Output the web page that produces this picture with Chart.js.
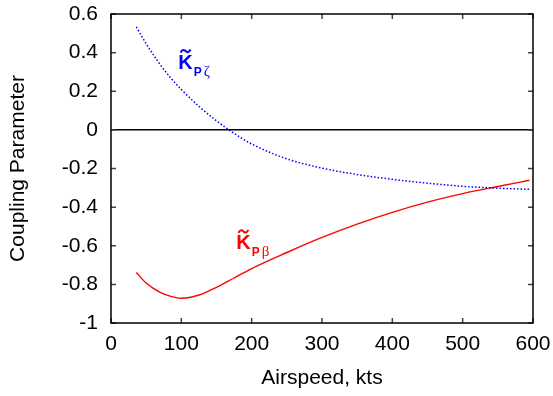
<!DOCTYPE html>
<html>
<head>
<meta charset="utf-8">
<script src="https://cdn.jsdelivr.net/npm/chart.js@4.4.1/dist/chart.umd.min.js"></script>
<style>
  html, body { margin: 0; padding: 0; background: #fff; }
  #wrap { width: 553px; height: 396px; }
</style>
</head>
<body>
<div id="wrap"><canvas id="c" width="553" height="396"></canvas></div>
<script>
// ---- data ----
const airspeed = [36, 50, 70, 85, 100, 125, 150, 175, 200, 250, 300, 350, 400, 450, 500, 550, 595];
const kpZeta   = [0.533, 0.446, 0.338, 0.269, 0.209, 0.122, 0.047, -0.018, -0.073, -0.150, -0.198, -0.231, -0.256, -0.276, -0.292, -0.302, -0.308];
const kpBeta   = [-0.738, -0.793, -0.842, -0.862, -0.872, -0.855, -0.815, -0.767, -0.718, -0.635, -0.557, -0.488, -0.427, -0.374, -0.33, -0.293, -0.261];
const xTicks = [0, 100, 200, 300, 400, 500, 600];
const yTicks = [0.6, 0.4, 0.2, 0, -0.2, -0.4, -0.6, -0.8, -1];
// curve labels: main letter, subscript, greek, anchor (data coords of K left/baseline)
const labelZeta = { main: 'K', sub: 'P', greek: 'ζ', x: 95.7, y: 0.315, color: '#0000ff' };
const labelBeta = { main: 'K', sub: 'P', greek: 'β', x: 178, y: -0.619, color: '#ff0000' };

const FONT = "'Liberation Sans', Arial, Helvetica, sans-serif";

const pts = (xs, ys) => xs.map((x, i) => ({ x: x, y: ys[i] }));

const framePlugin = {
  id: 'frame',
  afterDatasetsDraw(chart) {
    const ctx = chart.ctx;
    const a = chart.chartArea;
    const xs = chart.scales.x, ys = chart.scales.y;
    ctx.save();
    // inward ticks on all four sides
    ctx.strokeStyle = '#444';
    ctx.lineWidth = 1.5;
    const tl = 5;
    xs.ticks.forEach((t, i) => {
      const px = xs.getPixelForTick(i);
      ctx.beginPath();
      ctx.moveTo(px, a.bottom); ctx.lineTo(px, a.bottom - tl);
      ctx.moveTo(px, a.top); ctx.lineTo(px, a.top + tl);
      ctx.stroke();
    });
    ys.ticks.forEach((t, i) => {
      const py = ys.getPixelForTick(i);
      ctx.beginPath();
      ctx.moveTo(a.left, py); ctx.lineTo(a.left + tl, py);
      ctx.moveTo(a.right, py); ctx.lineTo(a.right - tl, py);
      ctx.stroke();
    });
    // frame
    ctx.strokeStyle = '#000';
    ctx.lineWidth = 1.5;
    ctx.strokeRect(a.left, a.top, a.right - a.left, a.bottom - a.top);
    // curve labels
    [labelZeta, labelBeta].forEach(l => {
      const px = xs.getPixelForValue(l.x);
      const py = ys.getPixelForValue(l.y);
      ctx.fillStyle = l.color;
      ctx.strokeStyle = l.color;
      ctx.textBaseline = 'alphabetic';
      ctx.textAlign = 'left';
      ctx.font = "bold 20px " + FONT;
      ctx.fillText(l.main, px, py);
      const kw = ctx.measureText(l.main).width;
      // tilde
      const cx = px + kw / 2, ty = py - 18;
      ctx.lineWidth = 2;
      ctx.beginPath();
      ctx.moveTo(cx - 5, ty + 1.5);
      ctx.bezierCurveTo(cx - 3, ty - 2.5, cx - 1, ty - 1, cx, ty);
      ctx.bezierCurveTo(cx + 1, ty + 1, cx + 3, ty + 2.5, cx + 5, ty - 1.5);
      ctx.stroke();
      ctx.font = "bold 12px " + FONT;
      ctx.fillText(l.sub, px + 15.5, py + 6.5);
      const sw = ctx.measureText(l.sub).width;
      ctx.font = "15px 'Liberation Serif', 'DejaVu Serif', serif";
      ctx.fillText(l.greek, px + 16 + sw + 1.5, py + 6.5);
    });
    ctx.restore();
  }
};

new Chart(document.getElementById('c'), {
  type: 'line',
  data: {
    datasets: [
      {
        label: 'KPζ',
        data: pts(airspeed, kpZeta),
        borderColor: '#0000ff',
        borderWidth: 1.5,
        borderDash: [1.5, 2],
        pointRadius: 0,
        fill: false,
        cubicInterpolationMode: 'monotone'
      },
      {
        label: 'KPβ',
        data: pts(airspeed, kpBeta),
        borderColor: '#ff0000',
        borderWidth: 1.4,
        pointRadius: 0,
        fill: false,
        cubicInterpolationMode: 'monotone'
      }
    ]
  },
  options: {
    responsive: false,
    animation: false,
    devicePixelRatio: 1,
    layout: { padding: { top: 14, right: 20, left: 0, bottom: 0 } },
    plugins: { legend: { display: false }, tooltip: { enabled: false } },
    scales: {
      x: {
        type: 'linear',
        min: 0, max: 600,
        afterBuildTicks: s => { s.ticks = xTicks.map(v => ({ value: v })); },
        afterFit: s => { s.height = 73; s.paddingLeft = 0; s.paddingRight = 0; },
        ticks: { color: '#000', font: { family: FONT, size: 21 }, padding: 9, maxRotation: 0 },
        grid: { drawOnChartArea: false, drawTicks: false },
        border: { display: false },
        title: { display: true, text: 'Airspeed, kts', color: '#000', font: { family: FONT, size: 21 }, padding: { top: 0, bottom: 5 } }
      },
      y: {
        type: 'linear',
        min: -1, max: 0.6,
        afterBuildTicks: s => { s.ticks = yTicks.map(v => ({ value: v })); },
        afterFit: s => { s.width = 111; s.paddingTop = 0; s.paddingBottom = 0; },
        ticks: { color: '#000', font: { family: FONT, size: 21 }, padding: 13, callback: v => String(Math.round(v * 10) / 10) },
        grid: {
          drawTicks: false,
          lineWidth: 1.5,
          color: c => (c.tick && c.tick.value === 0) ? '#000' : 'rgba(0,0,0,0)'
        },
        border: { display: false },
        title: { display: true, text: 'Coupling Parameter', color: '#000', font: { family: FONT, size: 21 }, padding: { top: 6, bottom: 0 } }
      }
    }
  },
  plugins: [framePlugin]
});
</script>
</body>
</html>
